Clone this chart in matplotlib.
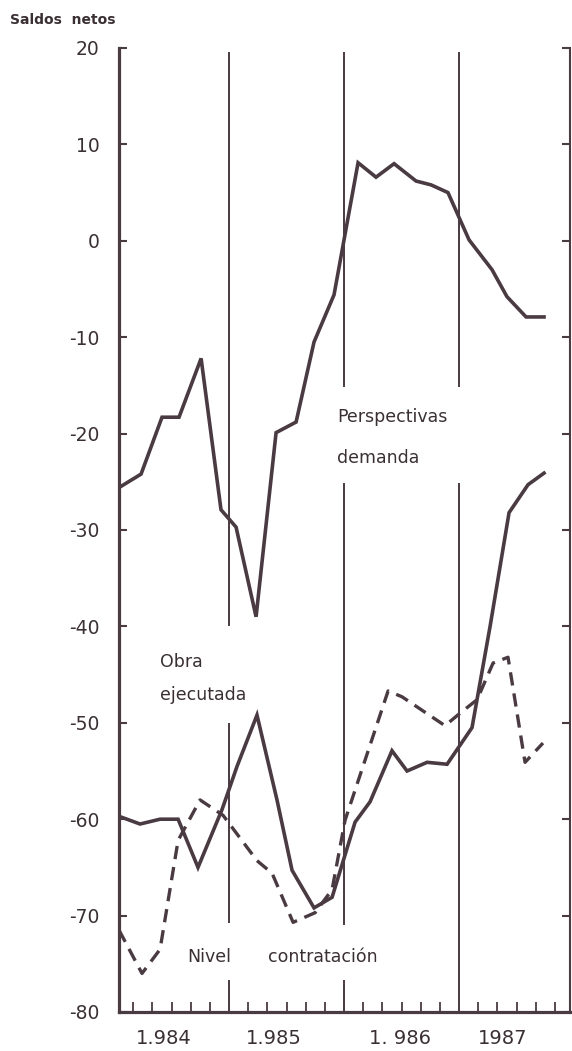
import numpy as np
import matplotlib.pyplot as plt

# Saldos netos (fechas en años decimales)
fechas_perspectivas = [1984.043, 1984.235, 1984.417, 1984.565, 1984.757, 1984.930,
                       1985.061, 1985.235, 1985.409, 1985.583, 1985.739, 1985.913,
                       1986.122, 1986.278, 1986.435, 1986.626, 1986.757, 1986.904,
                       1987.087, 1987.287, 1987.417, 1987.583, 1987.739]
perspectivas_demanda = [-25.6, -24.2, -18.3, -18.3, -12.2, -27.9,
                        -29.7, -39.0, -19.9, -18.8, -10.5, -5.6,
                        8.1, 6.6, 8.0, 6.2, 5.8, 5.0,
                        0.1, -3.0, -5.8, -7.9, -7.9]

fechas_obra = [1984.043, 1984.226, 1984.400, 1984.557, 1984.730, 1984.939,
               1985.070, 1985.243, 1985.417, 1985.548, 1985.739, 1985.896,
               1986.096, 1986.226, 1986.417, 1986.548, 1986.722, 1986.896,
               1987.113, 1987.270, 1987.435, 1987.600, 1987.739]
obra_ejecutada = [-59.7, -60.5, -60.0, -60.0, -65.0, -59.0,
                  -54.5, -49.2, -58.0, -65.3, -69.2, -68.1,
                  -60.3, -58.2, -52.9, -55.0, -54.1, -54.3,
                  -50.5, -40.0, -28.2, -25.3, -24.1]

fechas_nivel = [1984.043, 1984.243, 1984.400, 1984.557, 1984.748, 1984.948,
                1985.243, 1985.374, 1985.557, 1985.748, 1985.896,
                1986.009, 1986.383, 1986.504, 1986.878,
                1987.009, 1987.157, 1987.296, 1987.426, 1987.574, 1987.730]
nivel_contratacion = [-71.5, -76.0, -73.5, -62.2, -58.0, -59.6,
                      -64.3, -65.6, -70.7, -69.7, -67.3,
                      -60.1, -46.7, -47.3, -50.3,
                      -49.0, -47.6, -43.8, -43.2, -54.1, -52.1]

anios = [1984, 1985, 1986, 1987]
etiquetas_anios = ['1.984', '1.985', '1. 986', '1987']
valores_y = [20, 10, 0, -10, -20, -30, -40, -50, -60, -70, -80]

color = '#4a3a42'

fig = plt.figure(figsize=(5.72, 10.51), dpi=100)
ax = fig.add_axes([119 / 572, 1 - 1012 / 1051, 451 / 572, 964 / 1051])

# curvas
ax.plot(fechas_perspectivas, perspectivas_demanda, color=color, lw=2.6,
        solid_joinstyle='miter')
ax.plot(fechas_obra, obra_ejecutada, color=color, lw=2.6, solid_joinstyle='miter')
ax.plot(fechas_nivel, nivel_contratacion, color=color, lw=2.4, dashes=(4, 2.4))

# separadores de años, cortados donde van los rotulos
cortes = {1985: [(19.6, -40.0), (-50.0, -70.8), (-76.7, -80)],
          1986: [(19.6, -15.2), (-25.1, -71.0), (-76.7, -80)],
          1987: [(19.6, -15.2), (-25.1, -80)]}
for anio, tramos in cortes.items():
    for y0, y1 in tramos:
        ax.vlines(anio, y1, y0, color=color, lw=1.4)

ax.set_xlim(1984.043, 1987.965)
ax.set_ylim(-80, 20)

# ejes
ax.spines['top'].set_visible(False)
ax.spines['left'].set_linewidth(2.3)
ax.spines['bottom'].set_linewidth(2.3)
ax.spines['right'].set_linewidth(1.5)
for s in ax.spines.values():
    s.set_color(color)

ax.set_yticks(valores_y)
ax.set_yticklabels([str(v) for v in valores_y])
ax.tick_params(axis='y', direction='in', length=6, width=1.5, color=color,
               left=True, right=True, labelsize=13.5, labelcolor='#3a3034', pad=14)

pos_etiquetas = [1984.43, 1985.39, 1986.49, 1987.38]
ax.set_xticks(pos_etiquetas)
ax.set_xticklabels(etiquetas_anios)
ax.tick_params(axis='x', which='major', length=0, labelsize=14,
               labelcolor='#3a3034', pad=12)
menores = [a + k / 6 for a in anios for k in range(1, 6)]
ax.set_xticks(menores, minor=True)
ax.tick_params(axis='x', which='minor', direction='in', length=7, width=1.3,
               color=color)

# rotulos
txt = dict(color='#3a3034', fontsize=12.5, va='center', ha='left')
ax.text(1985.94, -18.3, 'Perspectivas', **txt)
ax.text(1985.94, -22.5, 'demanda', **txt)
ax.text(1984.40, -43.7, 'Obra', **txt)
ax.text(1984.40, -47.1, 'ejecutada', **txt)
ax.text(1984.635, -74.3, 'Nivel', **txt)
ax.text(1985.34, -74.3, 'contratación', **txt)

fig.text(10 / 572, 1 - 20 / 1051, 'Saldos  netos', color='#3a3034',
         fontsize=10, fontweight='bold', va='center', ha='left')

fig.savefig('out.png', dpi=100, facecolor='white')
